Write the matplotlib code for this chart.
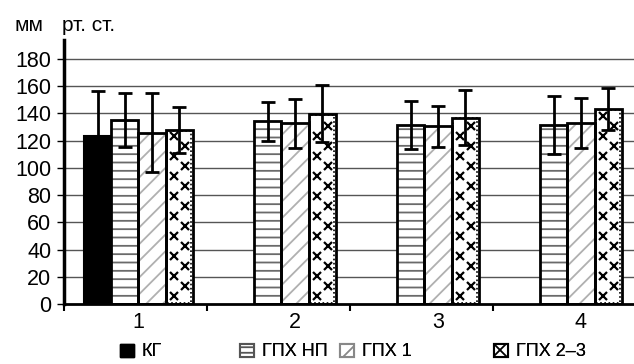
import matplotlib
matplotlib.use("Agg")
import matplotlib.pyplot as plt
import numpy as np
from matplotlib.patches import Patch

plt.rcParams['font.family'] = ['Liberation Sans', 'DejaVu Sans']
plt.rcParams['hatch.linewidth'] = 1.3

groups = ["1", "2", "3", "4"]
series = ["КГ", "ГПХ НП", "ГПХ 1", "ГПХ 2–3"]
kg = [123.5, np.nan, np.nan, np.nan]
kg_err = [33, np.nan, np.nan, np.nan]
hnp = [135.3, 134.3, 131.5, 131.5]
hnp_err = [20, 14.5, 17.5, 21.5]
g1 = [126, 132.8, 130.5, 133]
g1_err = [29, 18, 15, 18.5]
g23 = [128, 139.7, 137, 143.5]
g23_err = [17, 21, 20, 15.5]
yticks = [0, 20, 40, 60, 80, 100, 120, 140, 160, 180]

values = [kg, hnp, g1, g23]
errors = [kg_err, hnp_err, g1_err, g23_err]

W, H = 634, 364
fig = plt.figure(figsize=(W / 100, H / 100), dpi=100)
ax = fig.add_axes([64 / W, (H - 304) / H, (634 - 64) / W, (304 - 40) / H])

bw = 0.19
off = 0.14
xlim_r = (634 - 64) / 143.0

ax.set_ylim(0, 194)
ax.set_xlim(0, xlim_r)

for y in yticks[1:]:
    ax.axhline(y, color='#555555', lw=1.0, zorder=0)

label_pos = []
for g in range(len(groups)):
    present = [s for s in range(4) if not np.isnan(values[s][g])]
    lefts = [g + off + s * bw for s in present]
    label_pos.append((min(lefts) + max(lefts) + bw) / 2)

for s in range(4):
    v = np.array(values[s], dtype=float)
    e = np.array(errors[s], dtype=float)
    x = np.arange(len(groups)) + off + s * bw + bw / 2
    m = ~np.isnan(v)
    x, v, e = x[m], v[m], e[m]
    if s == 0:
        ax.bar(x, v, bw, color='black', edgecolor='black', lw=1.5, zorder=2)
    elif s == 1:
        ax.bar(x, v, bw, color='white', edgecolor='#6a6a6a', hatch='--', lw=0, zorder=2)
        ax.bar(x, v, bw, fill=False, edgecolor='black', lw=2, zorder=3)
    elif s == 2:
        ax.bar(x, v, bw, color='white', edgecolor='#b0b0b0', hatch='//', lw=0, zorder=2)
        ax.bar(x, v, bw, fill=False, edgecolor='black', lw=2, zorder=3)
    else:
        ax.bar(x, v, bw, color='white', edgecolor='white', lw=0, zorder=2)
        ax.bar(x, v - 1.2, bw * 0.86, bottom=0.6, fill=False, edgecolor='black',
               lw=1.2, ls=(0, (1, 1.5)), zorder=3)
        ax.bar(x, v, bw, fill=False, edgecolor='black', lw=2, zorder=4)
        for xi, vi in zip(x, v):
            ys = np.arange(6.0, vi - 4, 7.35)
            xs = np.where(np.arange(len(ys)) % 2 == 0, xi - bw * 0.2, xi + bw * 0.2)
            ax.plot(xs, ys, ls='none', marker='x', ms=6, mew=1.6, color='black', zorder=3)
    ax.errorbar(x, v, yerr=e, fmt='none', ecolor='black', elinewidth=2,
                capsize=5, capthick=2, zorder=5)

for sp in ['top', 'right']:
    ax.spines[sp].set_visible(False)
ax.spines['left'].set_linewidth(2.5)
ax.spines['bottom'].set_linewidth(2)
ax.spines['left'].set_zorder(6)
ax.spines['bottom'].set_zorder(6)

ax.set_yticks(yticks)
ax.set_yticklabels([str(t) for t in yticks], fontsize=15.5)
ax.tick_params(axis='y', direction='out', length=5, width=1, pad=4)

ax.set_xticks([0, 1, 2, 3])
ax.set_xticklabels([])
ax.tick_params(axis='x', which='major', direction='out', length=5, width=1.5)
ax.set_xticks(label_pos, minor=True)
ax.set_xticklabels(groups, minor=True, fontsize=15.5)
ax.tick_params(axis='x', which='minor', length=0, pad=6)

fig.text(14 / W, 1 - 31 / H, "мм", fontsize=15, ha='left', va='baseline')
fig.text(62 / W, 1 - 31 / H, "рт. ст.", fontsize=15, ha='left', va='baseline')

handles = [
    Patch(facecolor='black', edgecolor='black'),
    Patch(facecolor='white', edgecolor='#555555', hatch='---', lw=1.5),
    Patch(facecolor='white', edgecolor='#888888', hatch='/', lw=1.5),
    Patch(facecolor='white', edgecolor='black', hatch='xx', lw=1.5),
]
leg_x = [120, 240, 340, 494]
for h, lab, lx in zip(handles, series, leg_x):
    lg = fig.legend([h], [lab], loc='center left', bbox_to_anchor=(lx / W, 12 / H),
                    frameon=False, fontsize=13, handlelength=0.75, handleheight=0.75,
                    handletextpad=0.45, borderpad=0, borderaxespad=0)
    fig.add_artist(lg)

fig.savefig("out.png", dpi=100)
